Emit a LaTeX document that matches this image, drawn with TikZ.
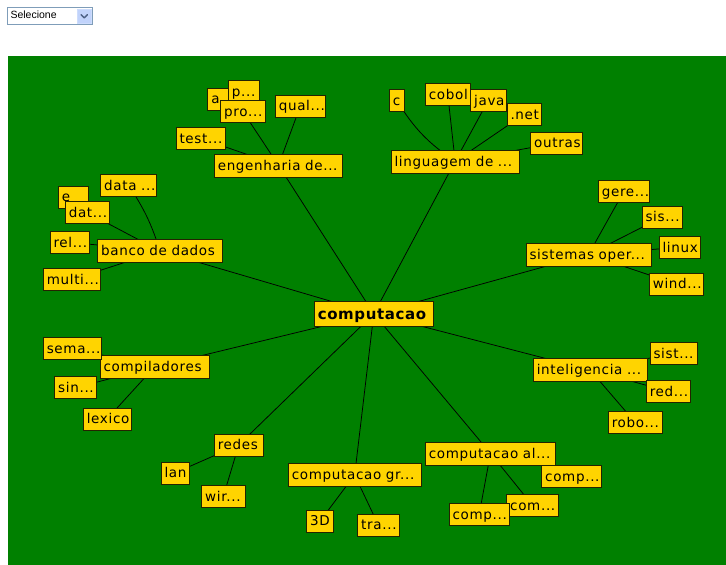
\documentclass[tikz,border=0pt]{standalone}
\usepackage{fontspec}
\usetikzlibrary{backgrounds}
\newfontfamily\nodefont[LetterSpace=5]{DejaVu Sans}
\newfontfamily\rootfont[LetterSpace=4]{DejaVu Sans}
\newfontfamily\uifont{Liberation Sans}
\definecolor{bggreen}{RGB}{0,128,0}
\definecolor{tagfill}{RGB}{255,212,0}
\definecolor{tagline}{RGB}{35,35,0}
\definecolor{selborder}{RGB}{127,157,185}
\definecolor{btnfill}{RGB}{193,211,251}
\definecolor{btnarrow}{RGB}{77,97,133}
% \tg[options]{name}{x}{y}{box width}{label}
\newcommand\tg[6][]{%
  \pgfmathsetmacro\tagtw{#5-7}%
  \node[tag,#1,text width=\tagtw pt] (#2) at (#3,#4) {\mbox{#6}};}
\begin{document}
\begin{tikzpicture}[x=1pt,y=-1pt,
  tag/.style={draw=tagline, fill=tagfill, line width=0.7pt,
    inner xsep=3.5pt, inner ysep=0pt, minimum height=22pt,
    font={\nodefont\fontsize{13.5pt}{15pt}\selectfont},
    text height=9.5pt, text depth=0pt, align=left},
  major/.style={minimum height=23pt},
  rootbox/.style={minimum height=25.7pt, text height=11pt,
    font={\rootfont\bfseries\fontsize{15pt}{17pt}\selectfont}},
  link/.style={draw=black, line width=0.75pt},
  selectbox/.style={draw=selborder, fill=white, line width=0.7pt,
    minimum width=85pt, minimum height=16.5pt, inner sep=0pt,
    text width=79pt, align=left, text height=7.5pt, text depth=2pt,
    font={\uifont\fontsize{10.5pt}{12pt}\selectfont}},
  selectbtn/.style={fill=btnfill, draw=btnfill!80!white, line width=0.5pt,
    minimum width=13.5pt, minimum height=14pt, inner sep=0pt}]
\useasboundingbox (0,0) rectangle (726,565);

% drop-down list above the panel
\node[selectbox] (sel) at (50,15.75) {Selecione};
\node[selectbtn] (btn) at (84.25,16) {};
\draw[btnarrow, line width=1.4pt, line cap=round, line join=round]
  ([shift={(-3.2,-1.3)}]btn.center) -- ([shift={(0,1.9)}]btn.center)
  -- ([shift={(3.2,-1.3)}]btn.center);

% root
\tg[rootbox]{root}{373.8}{313.85}{119}{computacao}

% engenharia branch
\tg[major]{eng}{278.5}{165.35}{128.4}{engenharia de...}
\tg{a}{222.4}{99.2}{29.3}{a}
\tg{p}{243.7}{91.35}{30.7}{p...}
\tg{pro}{243}{111.7}{44.6}{pro...}
\tg{qual}{300.3}{106.15}{50}{qual...}
\tg{test}{200.5}{138.3}{49}{test...}

% linguagem branch
\tg[major]{ling}{455.15}{161.35}{128.3}{linguagem de ...}
\tg{c}{396.8}{100.5}{15}{c}
\tg{cobol}{447.8}{94.5}{45}{cobol}
\tg{java}{488.35}{100.3}{35.3}{java}
\tg{net}{524.15}{114.3}{34.3}{.net}
\tg{outras}{556.5}{143}{51.6}{outras}

% banco de dados branch
\tg[major]{banco}{160}{251}{124.6}{banco de dados}
\tg{data}{128.7}{185.5}{56}{data ...}
\tg{e}{73.3}{196.85}{30}{e}
\tg{dat}{87.15}{212.5}{43.7}{dat...}
\tg{rel}{69.65}{242.3}{39.3}{rel...}
\tg{multi}{72}{279.5}{57.4}{multi...}

% sistemas operacionais branch
\tg[major]{so}{588.5}{254.5}{125}{sistemas oper...}
\tg{gere}{623.8}{191.5}{51}{gere...}
\tg{sis}{662.35}{217}{40.7}{sis...}
\tg{linux}{679.5}{247.3}{41}{linux}
\tg{wind}{676.5}{284.15}{54.4}{wind...}

% compiladores branch
\tg[major]{compil}{154.5}{367}{109}{compiladores}
\tg{sema}{72.5}{348.3}{58.4}{sema...}
\tg{sin}{75.7}{387.7}{42}{sin...}
\tg{lexico}{107.15}{418.85}{47.7}{lexico}

% inteligencia branch
\tg[major]{intel}{590.15}{370}{113.7}{inteligencia ...}
\tg{sist}{673.65}{353.3}{47.3}{sist...}
\tg{red}{668.5}{391.3}{44.4}{red...}
\tg{robo}{635.3}{422.5}{54}{robo...}

% redes branch
\tg{redes}{238.8}{444.85}{49}{redes}
\tg{lan}{175}{472.85}{28}{lan}
\tg{wir}{223.35}{496.35}{43.3}{wir...}

% computacao grafica branch
\tg[major]{compgr}{354.65}{475}{132.7}{computacao gr...}
\tg{dd}{320}{521.15}{26.6}{3D}
\tg{tra}{378.35}{525}{41.3}{tra...}

% computacao algebrica branch
\tg[major]{compal}{490.5}{453.35}{130.4}{computacao al...}
\tg{compr}{571.5}{476.3}{59.6}{comp...}
\tg{com}{532.5}{505.3}{51.6}{com...}
\tg{compb}{479.15}{514.5}{60.3}{comp...}

\begin{scope}[on background layer]
  \fill[bggreen] (8,56) rectangle (726,565);
  % first level
  \foreach \n in {eng,ling,banco,so,compil,intel,redes,compgr,compal}
    \draw[link] (root.center) -- (\n.center);
  % second level
  \foreach \n in {pro,qual,test} \draw[link] (\n.center) -- (eng.center);
  \draw[link] (c.center) to[bend right=12] (ling.center);
  \foreach \n in {cobol,java,net,outras} \draw[link] (\n.center) -- (ling.center);
  \draw[link] (data.center) to[bend left=8] (banco.center);
  \foreach \n in {dat,rel,multi} \draw[link] (\n.center) -- (banco.center);
  \foreach \n in {gere,sis,linux,wind} \draw[link] (\n.center) -- (so.center);
  \foreach \n in {sema,sin,lexico} \draw[link] (\n.center) -- (compil.center);
  \foreach \n in {sist,red,robo} \draw[link] (\n.center) -- (intel.center);
  \foreach \n in {lan,wir} \draw[link] (\n.center) -- (redes.center);
  \foreach \n in {dd,tra} \draw[link] (\n.center) -- (compgr.center);
  \foreach \n in {com,compb} \draw[link] (\n.center) -- (compal.center);
\end{scope}
\end{tikzpicture}
\end{document}
